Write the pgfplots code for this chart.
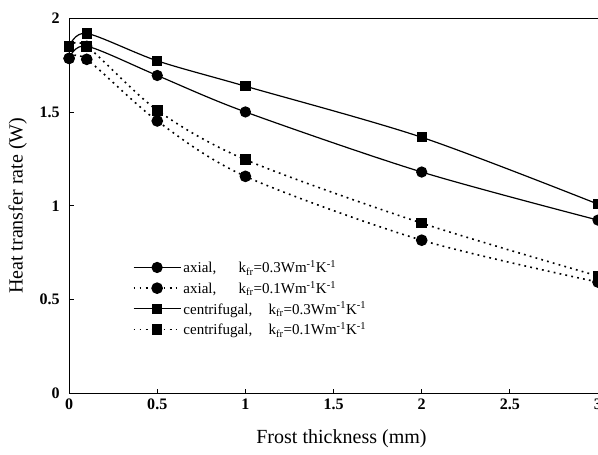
\documentclass[border=0pt]{standalone}
\usepackage{pgfplots}
\pgfplotsset{compat=1.18}
\usepackage{fontspec}
\setmainfont{Liberation Serif}

\begin{document}
\begin{tikzpicture}
\begin{axis}[
  scale only axis, width=528pt, height=375pt,
  xmin=0, xmax=3, ymin=0, ymax=2,
  xtick={0,0.5,1,1.5,2,2.5,3},
  ytick={0,0.5,1,1.5,2},
  xtick pos=bottom, ytick pos=left, tick align=inside,
  major tick length=5pt,
  axis line style={line width=1pt},
  tick style={line width=0.8pt, black},
  ticklabel style={font=\fontsize{16}{16}\selectfont\bfseries},
  /pgf/number format/assume math mode=true,
  yticklabel style={xshift=-6pt},
  xticklabel style={yshift=-2pt},
  xlabel={Frost thickness (mm)},
  ylabel={Heat transfer rate (W)},
  every axis x label/.style={at={(axis description cs:0.515,-0.12)}, anchor=center,
    font=\fontsize{20}{20}\selectfont},
  every axis y label/.style={at={(axis description cs:-0.097,0.5)}, rotate=90, anchor=center,
    font=\fontsize{20}{20}\selectfont},
  legend style={at={(0.12,0.36)}, anchor=north west, draw=none, fill=none,
    font=\fontsize{15}{18}\selectfont, row sep=3pt, inner sep=0pt},
  legend cell align=left,
  legend image code/.code={
    \draw[mark repeat=2,mark phase=2,#1] plot coordinates {(0pt,0pt) (23.5pt,0pt) (47pt,0pt)};
  },
  every axis plot/.append style={black, smooth},
]
\addplot[line width=1.2pt, mark=*, mark size=5pt, mark options={solid}] coordinates {
(0,1.785) (0.1,1.85) (0.5,1.694) (1,1.50) (2,1.18) (3,0.924)
};
\addplot[line width=1.6pt, dash pattern=on 1.8pt off 4.2pt, mark=*, mark size=5pt, mark options={solid}] coordinates {
(0,1.785) (0.1,1.78) (0.5,1.452) (1,1.157) (2,0.817) (3,0.594)
};
\addplot[line width=1.2pt, mark=square*, mark size=4.5pt, mark options={solid}] coordinates {
(0,1.847) (0.1,1.918) (0.5,1.772) (1,1.637) (2,1.365) (3,1.009)
};
\addplot[line width=1.6pt, dash pattern=on 1.8pt off 4.2pt, mark=square*, mark size=4.5pt, mark options={solid}] coordinates {
(0,1.847) (0.1,1.85) (0.5,1.509) (1,1.246) (2,0.908) (3,0.626)
};
\legend{
  \makebox[55pt][l]{axial,}k\textsubscript{fr}=0.3Wm\textsuperscript{-1}K\textsuperscript{-1},
  \makebox[55pt][l]{axial,}k\textsubscript{fr}=0.1Wm\textsuperscript{-1}K\textsuperscript{-1},
  \makebox[85pt][l]{centrifugal,}k\textsubscript{fr}=0.3Wm\textsuperscript{-1}K\textsuperscript{-1},
  \makebox[85pt][l]{centrifugal,}k\textsubscript{fr}=0.1Wm\textsuperscript{-1}K\textsuperscript{-1}
}
\end{axis}
\pgfresetboundingbox
\path[use as bounding box] ([xshift=-69pt,yshift=-61pt]current axis.south west) rectangle ([yshift=18pt]current axis.north east);
\end{tikzpicture}
\end{document}
